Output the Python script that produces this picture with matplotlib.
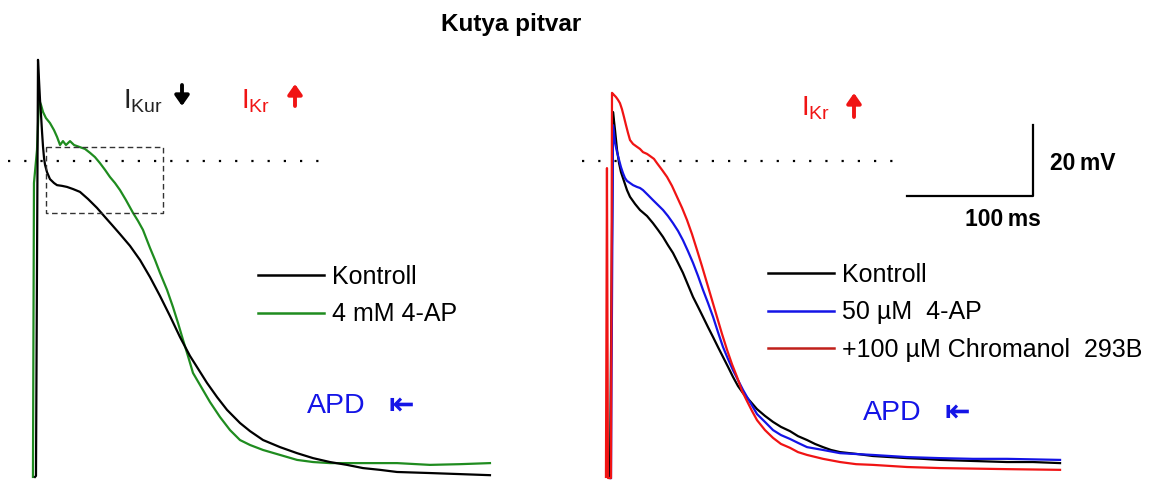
import matplotlib.pyplot as plt
from matplotlib.lines import Line2D

plt.rcParams['font.family'] = ['Liberation Sans', 'DejaVu Sans']
plt.rcParams['mathtext.fontset'] = 'custom'
plt.rcParams['mathtext.rm'] = 'Liberation Sans'

# ido (ms, a felfutastol) es membranpotencial (mV, 0 = pontozott vonal)
bal_kontroll_t = [-2.4, -1.6, 0.0, 0.8, 1.6, 2.4, 3.2, 4.0, 4.8, 5.6, 7.1, 9.5, 12.7, 15.1, 19.0,
                  23.0, 27.8, 33.3, 39.7, 46.8, 53.2, 58.7, 65.1, 73.0, 81.0, 88.9, 96.8, 104.8,
                  112.7, 120.6, 128.6, 134.1, 142.1, 150.0, 160.3, 168.3, 178.6, 192.1, 205.6,
                  218.3, 231.7, 245.2, 257.9, 271.4, 284.9, 311.1, 334.9, 358.7]
bal_kontroll_v = [-89.0, -88.7, 28.5, 22.8, 17.2, 13.0, 8.2, 3.9, 0.8, -1.1, -3.1, -5.1, -6.2, -6.8, -7.0,
                  -7.3, -7.9, -8.7, -10.7, -13.2, -15.8, -18.0, -20.6, -23.9, -27.9, -32.7, -38.0, -43.7,
                  -49.6, -54.9, -59.4, -62.5, -66.5, -70.1, -73.8, -76.1, -78.6, -80.6, -82.3,
                  -83.7, -84.8, -85.6, -86.5, -87.0, -87.6, -87.9, -88.2, -88.5]

bal_4ap_t = [-4.0, -3.2, -0.8, 0.8, 2.4, 4.0, 6.3, 9.5, 12.7, 15.1, 17.5, 19.8, 22.2, 25.4, 28.6,
             33.3, 37.3, 41.3, 45.2, 49.2, 53.2, 57.1, 61.1, 65.1, 69.8, 75.4, 79.4, 83.3, 88.9,
             92.9, 96.8, 102.4, 107.1, 111.1, 115.1, 119.0, 123.0, 128.6, 136.5, 144.4, 152.4,
             160.3, 168.3, 178.6, 192.1, 205.6, 218.3, 231.7, 257.9, 284.9, 311.1, 334.9, 358.7]
bal_4ap_v = [-89.0, -6.2, 3.1, 17.2, 15.8, 13.8, 12.1, 10.7, 8.7, 6.8, 4.5, 5.6, 4.5, 5.6, 4.5,
             3.9, 3.4, 2.3, 1.1, -0.6, -2.5, -4.5, -6.2, -8.2, -11.0, -14.6, -16.9, -19.4, -24.5,
             -27.9, -31.5, -36.3, -41.1, -45.6, -50.4, -54.9, -59.7, -63.1, -67.9, -72.1, -75.8,
             -78.6, -80.0, -81.4, -82.8, -84.2, -84.8, -85.1, -85.1, -85.1, -85.6, -85.4, -85.1]

jobb_kontroll_t = [-1.6, 0.8, 2.4, 4.0, 5.6, 7.1, 8.7, 10.3, 11.9, 14.3, 18.3, 22.2, 27.8, 32.5, 36.5,
                   40.5, 44.4, 48.4, 52.4, 56.3, 60.3, 64.3, 68.3, 72.2, 76.2, 80.2, 84.1, 88.1,
                   92.1, 96.0, 100.0, 104.0, 109.5, 115.1, 121.4, 127.8, 134.1, 141.3, 147.6, 154.8,
                   161.1, 167.5, 173.8, 181.0, 193.7, 207.1, 220.6, 234.1, 246.8, 260.3, 286.5,
                   313.5, 334.1, 355.6]
jobb_kontroll_v = [-89.3, 13.8, 8.7, 3.1, -0.6, -3.1, -4.8, -6.5, -8.2, -10.1, -12.1, -13.8, -15.5, -17.5, -19.4,
                   -21.4, -23.7, -25.9, -28.7, -31.5, -34.9, -38.3, -41.1, -43.9, -46.8, -49.6, -52.4, -55.2,
                   -58.0, -60.8, -63.4, -65.4, -67.6, -69.9, -71.8, -73.5, -74.9, -76.1, -77.5, -78.6,
                   -79.7, -80.6, -81.4, -82.0, -82.5, -83.1, -83.4, -83.7, -83.9, -84.2, -84.5,
                   -84.8, -84.8, -85.1]

jobb_4ap_t = [-0.8, 0.8, 1.6, 2.4, 4.0, 5.6, 7.1, 8.7, 10.3, 11.9, 14.3, 16.7, 19.8, 22.2, 24.6,
              28.6, 32.5, 36.5, 40.5, 44.4, 48.4, 52.4, 56.3, 60.3, 64.3, 68.3, 72.2, 76.2, 80.2,
              84.1, 88.1, 92.1, 96.0, 100.0, 104.0, 109.5, 115.1, 121.4, 127.8, 134.1, 141.3, 147.6,
              154.8, 167.5, 181.0, 207.1, 234.1, 260.3, 286.5, 313.5, 355.6]
jobb_4ap_v = [-89.3, 10.1, 7.9, 5.1, 2.5, 0.3, -1.7, -3.4, -4.8, -5.6, -6.2, -6.8, -7.3, -7.6, -8.2,
              -9.6, -11.0, -12.4, -13.8, -15.5, -17.5, -19.7, -22.3, -25.4, -28.7, -32.4, -36.3, -40.0, -43.9,
              -48.2, -52.4, -55.8, -58.9, -61.7, -64.5, -67.9, -71.3, -73.5, -75.8, -77.2, -78.3, -79.4,
              -80.6, -81.4, -82.3, -82.8, -83.4, -83.7, -83.9, -83.9, -84.2]

jobb_chrom_t = [-4.8, -4.0, -3.2, -0.8, 0.0, 1.6, 3.2, 4.8, 6.3, 7.9, 9.5, 11.1, 12.7, 14.3, 16.7,
                19.0, 22.2, 24.6, 27.8, 30.2, 33.3, 35.7, 39.7, 43.7, 47.6, 51.6, 55.6, 59.5, 63.5,
                67.5, 71.4, 75.4, 79.4, 83.3, 87.3, 91.3, 95.2, 99.2, 103.2, 107.1, 111.1, 115.1,
                121.4, 127.8, 134.1, 141.3, 147.6, 154.8, 167.5, 181.0, 193.7, 207.1, 234.1, 260.3,
                313.5, 355.6]
jobb_chrom_v = [-89.0, -2.0, -89.3, -89.3, 19.2, 18.6, 18.0, 17.2, 16.3, 14.6, 12.4, 10.1, 7.9, 5.9, 4.8,
                4.2, 3.4, 2.5, 2.0, 1.4, 0.6, -0.6, -2.5, -4.5, -7.0, -10.1, -13.2, -16.6, -20.6,
                -25.1, -29.6, -34.4, -39.2, -43.9, -48.7, -53.2, -57.2, -60.8, -64.8, -67.6, -70.4, -73.0,
                -75.8, -78.0, -79.7, -80.8, -82.0, -82.8, -83.9, -84.8, -85.4, -85.6, -86.2, -86.5,
                -86.8, -87.0]

bal_cimkek = ['Kontroll', '4 mM 4-AP']
jobb_cimkek = ['Kontroll', '50 µM  4-AP', '+100 µM Chromanol  293B']

ZOLD = '#1f8c1f'
KEK = '#1414e6'
PIROS = '#f01414'

# elrendezes: pixel / ms, pixel / mV
W, H = 1167, 482
PX_MS, PX_MV = 1.26, 3.55
X0, Y0 = 38, 161
JOBB_ELTOLAS = (612 - X0) / PX_MS


def fx(x):
    return x / W


def fy(y):
    return 1 - y / H


fig = plt.figure(figsize=(W / 100, H / 100), dpi=100)
ax = fig.add_axes([0, 0, 1, 1])
ax.set_xlim(-X0 / PX_MS, (W - X0) / PX_MS)
ax.set_ylim(-(H - Y0) / PX_MV, Y0 / PX_MV)
ax.axis('off')

lw = 1.6
ax.plot(bal_4ap_t, bal_4ap_v, color=ZOLD, lw=lw)
ax.plot(bal_kontroll_t, bal_kontroll_v, color='black', lw=lw)

jt = lambda ts: [t + JOBB_ELTOLAS for t in ts]
ax.plot(jt(jobb_kontroll_t), jobb_kontroll_v, color='black', lw=lw)
ax.plot(jt(jobb_4ap_t), jobb_4ap_v, color=KEK, lw=lw)
ax.plot(jt(jobb_chrom_t), jobb_chrom_v, color=PIROS, lw=lw)

# 0 mV pontozott vonal mindket panelen
for off in [0, JOBB_ELTOLAS]:
    ax.plot([off - 24, off + 224], [0, 0], color='black', lw=1.6, ls=(0, (1, 6.3)))

# szaggatott keret
ax.plot([6.3, 99.2, 99.2, 6.3, 6.3], [3.9, 3.9, -14.6, -14.6, 3.9],
        color='#333333', lw=1.0, ls=(0, (4, 2.5)))

# skala: 100 ms, 20 mV
sx, sy = (1033 - X0) / PX_MS, (Y0 - 196) / PX_MV
ax.plot([sx - 100, sx, sx], [sy, sy, sy + 20], color='black', lw=1.6)
ax.text(fx(1050), fy(163), '20\u2009mV', transform=ax.transAxes, fontsize=16.5,
        fontweight='bold', ha='left', va='center')
ax.text(fx(965), fy(220), '100\u2009ms', transform=ax.transAxes, fontsize=16.5,
        fontweight='bold', ha='left', va='center')

ax.text(fx(511), fy(24), 'Kutya pitvar', transform=ax.transAxes, fontsize=17.5,
        fontweight='bold', ha='center', va='center')

# aramok
ax.text(fx(123), fy(108), r'I$_{\mathregular{Kur}}$', transform=ax.transAxes,
        fontsize=20, color='#222222', ha='left', va='baseline')
ax.text(fx(241), fy(108), r'I$_{\mathregular{Kr}}$', transform=ax.transAxes,
        fontsize=20, color=PIROS, ha='left', va='baseline')
ax.text(fx(801), fy(115), r'I$_{\mathregular{Kr}}$', transform=ax.transAxes,
        fontsize=20, color=PIROS, ha='left', va='baseline')

nyil = dict(arrowstyle='-|>,head_length=0.6,head_width=0.42', lw=2.8, shrinkA=0, shrinkB=0)
ax.annotate('', xy=(fx(182), fy(106)), xytext=(fx(182), fy(85)), xycoords='axes fraction',
            arrowprops=dict(nyil, color='black'))
ax.annotate('', xy=(fx(295), fy(84)), xytext=(fx(295), fy(106)), xycoords='axes fraction',
            arrowprops=dict(nyil, color=PIROS))
ax.annotate('', xy=(fx(854), fy(93)), xytext=(fx(854), fy(117)), xycoords='axes fraction',
            arrowprops=dict(nyil, color=PIROS))

for x, y, xa in [(307, 406, 388), (863, 413, 945)]:
    ax.text(fx(x), fy(y), 'APD', transform=ax.transAxes, fontsize=20.5, color=KEK,
            ha='left', va='center')
    ax.text(fx(xa), fy(y), '\u21e4', transform=ax.transAxes, fontsize=22, color=KEK,
            ha='left', va='center', family=['DejaVu Sans'], fontweight='bold')

# jelmagyarazatok
bal_kezelok = [Line2D([], [], color='black', lw=1.8), Line2D([], [], color=ZOLD, lw=1.8)]
leg1 = ax.legend(bal_kezelok, bal_cimkek, loc='upper left', bbox_to_anchor=(fx(258), fy(265)),
                 frameon=False, fontsize=18, borderpad=0, borderaxespad=0, handlelength=2.65,
                 handletextpad=0.32, labelspacing=0.53)
ax.add_artist(leg1)
jobb_kezelok = [Line2D([], [], color='black', lw=1.8), Line2D([], [], color=KEK, lw=1.8),
                Line2D([], [], color='#c0201a', lw=1.8)]
ax.legend(jobb_kezelok, jobb_cimkek, loc='upper left', bbox_to_anchor=(fx(768), fy(263)),
          frameon=False, fontsize=18, borderpad=0, borderaxespad=0, handlelength=2.65,
          handletextpad=0.32, labelspacing=0.53)

fig.savefig('out.png', dpi=100)
